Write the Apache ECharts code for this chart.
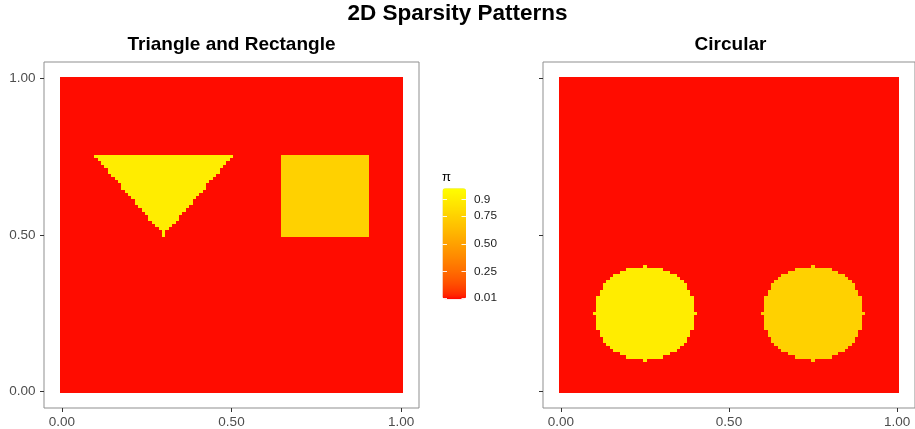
<!DOCTYPE html>
<html>
<head>
<meta charset="utf-8">
<script src="https://cdn.jsdelivr.net/npm/echarts@6/dist/echarts.min.js"></script>
<style>
  html, body { margin: 0; padding: 0; background: #ffffff; }
  #chart { width: 915px; height: 429px; }
</style>
</head>
<body>
<div id="chart"></div>
<script>
// Raster: 101 x 101 cells on [0, 1] x [0, 1], one cell every 0.01
const gridStep = 0.01;
const gridPoints = 101;
const backgroundValue = 0.01;

// Triangle: rows from y = 0.50 upwards, centred on x = 0.30, half widths in cells
const triangleBaseY = 0.50;
const triangleCentreX = 0.30;
const triangleHalfWidths = [0, 0, 1, 2, 3, 4, 4, 5, 6, 7, 8, 8, 9, 10, 11, 12, 12, 13, 14, 15, 16, 16, 17, 18, 19, 20];
const triangleValue = 0.9;

// Rectangle
const rectangleX = [0.65, 0.90];
const rectangleY = [0.50, 0.75];
const rectangleValue = 0.75;

// Circles: centres, values, half widths (cells) for each row offset from the centre row
const circleCentres = [[0.25, 0.25], [0.75, 0.25]];
const circleValues = [0.9, 0.75];
const circleHalfWidths = [15, 14, 14, 14, 14, 14, 13, 13, 12, 12, 11, 10, 9, 7, 5, 0];

// Axis and legend text
const chartTitle = '2D Sparsity Patterns';
const panelTitles = ['Triangle and Rectangle', 'Circular'];
const axisTickValues = [0, 0.5, 1];
const axisTickLabels = ['0.00', '0.50', '1.00'];
const legendTitle = 'π';
const legendBreaks = [0.01, 0.25, 0.5, 0.75, 0.9];
const legendLabels = ['0.01', '0.25', '0.50', '0.75', '0.9'];
const scaleLimits = [0, 1];
const lowColour = '#FF0000';
const highColour = '#FFFF00';

// ---- raster construction ----
function blankRaster() {
  const r = [];
  for (let i = 0; i < gridPoints; i++) {
    r.push(new Array(gridPoints).fill(backgroundValue));
  }
  return r;
}
function paintRow(r, j, i0, i1, v) {
  if (j < 0 || j >= gridPoints) return;
  for (let i = Math.max(0, i0); i <= Math.min(gridPoints - 1, i1); i++) r[i][j] = v;
}
const idx = v => Math.round(v / gridStep);

const rasterA = blankRaster();
triangleHalfWidths.forEach((h, k) => {
  const c = idx(triangleCentreX);
  paintRow(rasterA, idx(triangleBaseY) + k, c - h, c + h, triangleValue);
});
for (let j = idx(rectangleY[0]); j <= idx(rectangleY[1]); j++) {
  paintRow(rasterA, j, idx(rectangleX[0]), idx(rectangleX[1]), rectangleValue);
}

const rasterB = blankRaster();
circleCentres.forEach((c, n) => {
  const ci = idx(c[0]), cj = idx(c[1]);
  const reach = circleHalfWidths.length - 1;
  for (let d = -reach; d <= reach; d++) {
    const h = circleHalfWidths[Math.abs(d)];
    paintRow(rasterB, cj + d, ci - h, ci + h, circleValues[n]);
  }
});

function toData(r) {
  const out = [];
  for (let i = 0; i < gridPoints; i++) {
    for (let j = 0; j < gridPoints; j++) {
      out.push([+(i * gridStep).toFixed(2), +(j * gridStep).toFixed(2), r[i][j]]);
    }
  }
  return out;
}
const cellsA = toData(rasterA);
const cellsB = toData(rasterB);

// ---- colour ramp interpolated in CIELAB ----
function hexToRgb(h) { return [1, 3, 5].map(k => parseInt(h.substr(k, 2), 16) / 255); }
function lin(c) { return c <= 0.04045 ? c / 12.92 : Math.pow((c + 0.055) / 1.055, 2.4); }
function gam(c) { return c <= 0.0031308 ? 12.92 * c : 1.055 * Math.pow(c, 1 / 2.4) - 0.055; }
const WHITE = [0.95047, 1.0, 1.08883];
function rgbToLab(rgb) {
  const [r, g, b] = rgb.map(lin);
  const X = 0.4124 * r + 0.3576 * g + 0.1805 * b;
  const Y = 0.2126 * r + 0.7152 * g + 0.0722 * b;
  const Z = 0.0193 * r + 0.1192 * g + 0.9505 * b;
  const f = t => t > 0.008856 ? Math.cbrt(t) : 7.787 * t + 16 / 116;
  const fx = f(X / WHITE[0]), fy = f(Y / WHITE[1]), fz = f(Z / WHITE[2]);
  return [116 * fy - 16, 500 * (fx - fy), 200 * (fy - fz)];
}
function labToHex(lab) {
  const fy = (lab[0] + 16) / 116, fx = fy + lab[1] / 500, fz = fy - lab[2] / 200;
  const inv = t => t * t * t > 0.008856 ? t * t * t : (t - 16 / 116) / 7.787;
  const X = inv(fx) * WHITE[0], Y = inv(fy) * WHITE[1], Z = inv(fz) * WHITE[2];
  const r = 3.2406 * X - 1.5372 * Y - 0.4986 * Z;
  const g = -0.9689 * X + 1.8758 * Y + 0.0415 * Z;
  const b = 0.0557 * X - 0.2040 * Y + 1.0570 * Z;
  return '#' + [r, g, b].map(c => {
    const v = Math.round(Math.min(1, Math.max(0, gam(c))) * 255);
    return v.toString(16).padStart(2, '0');
  }).join('');
}
function labRamp(lo, hi, n) {
  const a = rgbToLab(hexToRgb(lo)), b = rgbToLab(hexToRgb(hi));
  const out = [];
  for (let k = 0; k < n; k++) {
    const t = k / (n - 1);
    out.push(labToHex([0, 1, 2].map(q => a[q] + (b[q] - a[q]) * t)));
  }
  return out;
}
const rampColours = labRamp(lowColour, highColour, 41);

// ---- layout ----
const FONT = "'Liberation Sans', Arial, Helvetica, sans-serif";
const panelWidth = 375, panelHeight = 346, panelTop = 62;
const panelLefts = [44, 543];
const axisRange = [-0.053, 1.053];
const barBox = { left: 442.5, top: 188.3, width: 23.5, height: 111 };

// Each cell is snapped to whole pixels so neighbouring cells meet without seams
function renderCell(params, api) {
  const x = api.value(0), y = api.value(1), h = gridStep / 2;
  const p0 = api.coord([x - h, y + h]);
  const p1 = api.coord([x + h, y - h]);
  const x0 = Math.round(p0[0]), y0 = Math.round(p0[1]);
  const x1 = Math.round(p1[0]), y1 = Math.round(p1[1]);
  return {
    type: 'rect',
    shape: { x: x0, y: y0, width: x1 - x0, height: y1 - y0 },
    style: { fill: api.visual('color') },
    silent: true
  };
}

const tickStyle = { color: '#333333', width: 1 };
function tickFormatter(v) { return axisTickLabels[axisTickValues.indexOf(+v.toFixed(2))]; }

function panelXAxis(gi) {
  return {
    gridIndex: gi, type: 'value', min: axisRange[0], max: axisRange[1],
    axisLine: { show: false, onZero: false },
    splitLine: { show: false },
    axisTick: { show: true, customValues: axisTickValues, length: 4, lineStyle: tickStyle },
    axisLabel: {
      customValues: axisTickValues, margin: 7, color: '#4D4D4D', fontSize: 13.5, fontFamily: FONT,
      formatter: tickFormatter
    }
  };
}
function panelYAxis(gi, labels) {
  return {
    gridIndex: gi, type: 'value', min: axisRange[0], max: axisRange[1],
    axisLine: { show: false, onZero: false },
    splitLine: { show: false },
    axisTick: { show: true, customValues: axisTickValues, length: 4, lineStyle: tickStyle },
    axisLabel: {
      show: labels, customValues: axisTickValues, margin: 8.5, color: '#4D4D4D', fontSize: 13.5, fontFamily: FONT,
      formatter: tickFormatter
    }
  };
}

const legendTickStyle = { color: '#FFFFFF', width: 1, opacity: 0.9 };

const option = {
  animation: false,
  backgroundColor: '#ffffff',
  title: [
    { text: chartTitle, left: 'center', top: 2, padding: 0,
      textStyle: { fontFamily: FONT, fontSize: 22.5, fontWeight: 'bold', color: '#000000' } },
    { text: panelTitles[0], left: panelLefts[0] + panelWidth / 2, textAlign: 'center', top: 35.5, padding: 0,
      textStyle: { fontFamily: FONT, fontSize: 19, fontWeight: 'bold', color: '#000000' } },
    { text: panelTitles[1], left: panelLefts[1] + panelWidth / 2, textAlign: 'center', top: 35.5, padding: 0,
      textStyle: { fontFamily: FONT, fontSize: 19, fontWeight: 'bold', color: '#000000' } },
    { text: legendTitle, left: 442, top: 171, padding: 0,
      textStyle: { fontFamily: FONT, fontSize: 13, fontWeight: 'normal', color: '#000000' } }
  ],
  grid: [
    { left: panelLefts[0], top: panelTop, width: panelWidth, height: panelHeight,
      show: true, borderColor: '#8F8F8F', borderWidth: 1, backgroundColor: '#ffffff', containLabel: false },
    { left: panelLefts[1], top: panelTop, width: panelWidth, height: panelHeight,
      show: true, borderColor: '#8F8F8F', borderWidth: 1, backgroundColor: '#ffffff', containLabel: false },
    { left: barBox.left, top: barBox.top, width: barBox.width, height: barBox.height, show: false }
  ],
  xAxis: [
    panelXAxis(0),
    panelXAxis(1),
    { gridIndex: 2, type: 'value', min: 0, max: 1, show: false }
  ],
  yAxis: [
    panelYAxis(0, true),
    panelYAxis(1, false),
    {
      gridIndex: 2, type: 'value', position: 'right', min: scaleLimits[0], max: scaleLimits[1], z: 10,
      axisLine: { show: false, onZero: false }, splitLine: { show: false },
      axisTick: { show: true, inside: true, length: 4.5, customValues: legendBreaks, lineStyle: legendTickStyle },
      axisLabel: {
        customValues: legendBreaks, margin: 8, color: '#1A1A1A', fontSize: 11.8, fontFamily: FONT,
        formatter: v => legendLabels[legendBreaks.indexOf(+v.toFixed(2))]
      }
    },
    {
      gridIndex: 2, type: 'value', position: 'left', min: scaleLimits[0], max: scaleLimits[1], z: 10,
      axisLine: { show: false, onZero: false }, splitLine: { show: false },
      axisTick: { show: true, inside: true, length: 4.5, customValues: legendBreaks, lineStyle: legendTickStyle },
      axisLabel: { show: false }
    }
  ],
  visualMap: {
    type: 'continuous',
    min: scaleLimits[0], max: scaleLimits[1],
    dimension: 2,
    seriesIndex: [0, 1],
    orient: 'vertical',
    left: barBox.left, top: barBox.top,
    itemWidth: barBox.width, itemHeight: barBox.height,
    padding: 0,
    calculable: false,
    hoverLink: false,
    text: null,
    showLabel: false,
    inRange: { color: rampColours }
  },
  series: [
    { type: 'custom', name: panelTitles[0], xAxisIndex: 0, yAxisIndex: 0, data: cellsA,
      encode: { x: 0, y: 1 }, renderItem: renderCell, progressive: 0, silent: true },
    { type: 'custom', name: panelTitles[1], xAxisIndex: 1, yAxisIndex: 1, data: cellsB,
      encode: { x: 0, y: 1 }, renderItem: renderCell, progressive: 0, silent: true }
  ]
};

const chart = echarts.init(document.getElementById('chart'), null, { renderer: 'canvas' });
chart.setOption(option);
</script>
</body>
</html>
